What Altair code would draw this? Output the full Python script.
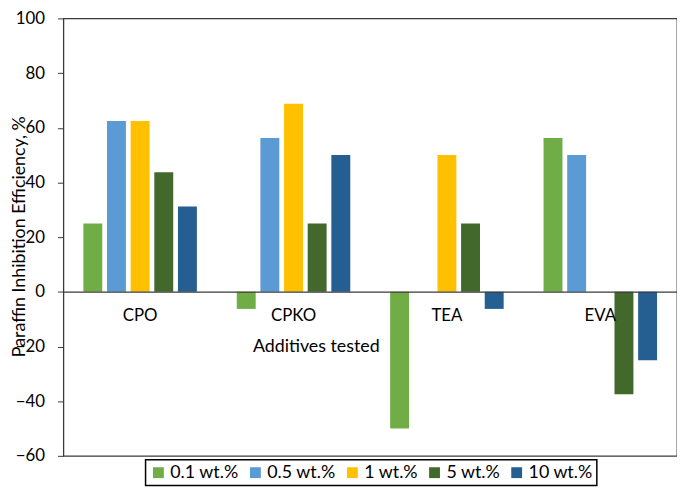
import altair as alt
import pandas as pd

categories = ["CPO", "CPKO", "TEA", "EVA"]
series = ["0.1 wt.%", "0.5 wt.%", "1 wt.%", "5 wt.%", "10 wt.%"]
colors = ["#70AD47", "#5B9BD5", "#FFC000", "#43682B", "#255E91"]
values = {
    "0.1 wt.%": [25, -6.25, -50, 56.25],
    "0.5 wt.%": [62.5, 56.25, None, 50],
    "1 wt.%": [62.5, 68.75, 50, None],
    "5 wt.%": [43.75, 25, 25, -37.5],
    "10 wt.%": [31.25, 50, -6.25, -25],
}

rows = []
for s in series:
    for c, v in zip(categories, values[s]):
        if v is not None:
            rows.append({"cat": c, "series": s, "value": v})
df = pd.DataFrame(rows)

FONT = "Lato"
GREY = "#3a3a3a"

bars = alt.Chart(df).mark_bar().encode(
    x=alt.X("cat:N", sort=categories,
            scale=alt.Scale(domain=categories, paddingInner=0.26, paddingOuter=0.13),
            axis=alt.Axis(title="Additives tested", orient="bottom", offset=-166,
                          domain=True, domainColor=GREY, domainWidth=1.3,
                          ticks=False, labelAngle=0, labelPadding=16,
                          labelFontSize=17, labelColor="black", labelFont=FONT,
                          titleFontSize=18, titleFont=FONT, titleFontWeight="normal",
                          titleColor="black", titleX=255, titleY=56,
                          titleBaseline="middle", titleAnchor="start", titleAlign="center",
                          zindex=1)),
    xOffset=alt.XOffset("series:N", sort=series,
                        scale=alt.Scale(domain=series, paddingInner=0.2)),
    y=alt.Y("value:Q", scale=alt.Scale(domain=[-60, 100], nice=False),
            axis=alt.Axis(title="Paraffin  Inhibition Efficiency, %", values=list(range(-60, 101, 20)),
                          grid=False, domain=False, tickSize=6, tickColor=GREY,
                          labelFontSize=17, labelColor="black", labelFont=FONT, labelPadding=13,
                          titleFontSize=18, titleFont=FONT, titleFontWeight="normal",
                          titleColor="black", titleX=-44, titleY=220, titleAngle=270,
                          titleAlign="center", titleBaseline="middle")),
    color=alt.Color("series:N", sort=series,
                    scale=alt.Scale(domain=series, range=colors),
                    legend=alt.Legend(title=None, orient="none", direction="horizontal",
                                      legendX=83, legendY=446,
                                      symbolType="square", symbolSize=120, symbolStrokeWidth=0,
                                      labelFontSize=18, labelFont=FONT, labelColor="black",
                                      labelOffset=3,
                                      columnPadding=7, padding=4, strokeColor="black",
                                      fillColor="white")),
)

chart = bars.properties(
    width=620, height=442,
    autosize=alt.AutoSizeParams(type="none"),
    padding={"left": 56, "top": 8, "right": 0, "bottom": 34},
).configure_view(stroke=GREY, strokeWidth=1.3).configure_legend(strokeWidth=1.5)

chart.save("out.html", embed_options={"renderer": "svg", "actions": False})
